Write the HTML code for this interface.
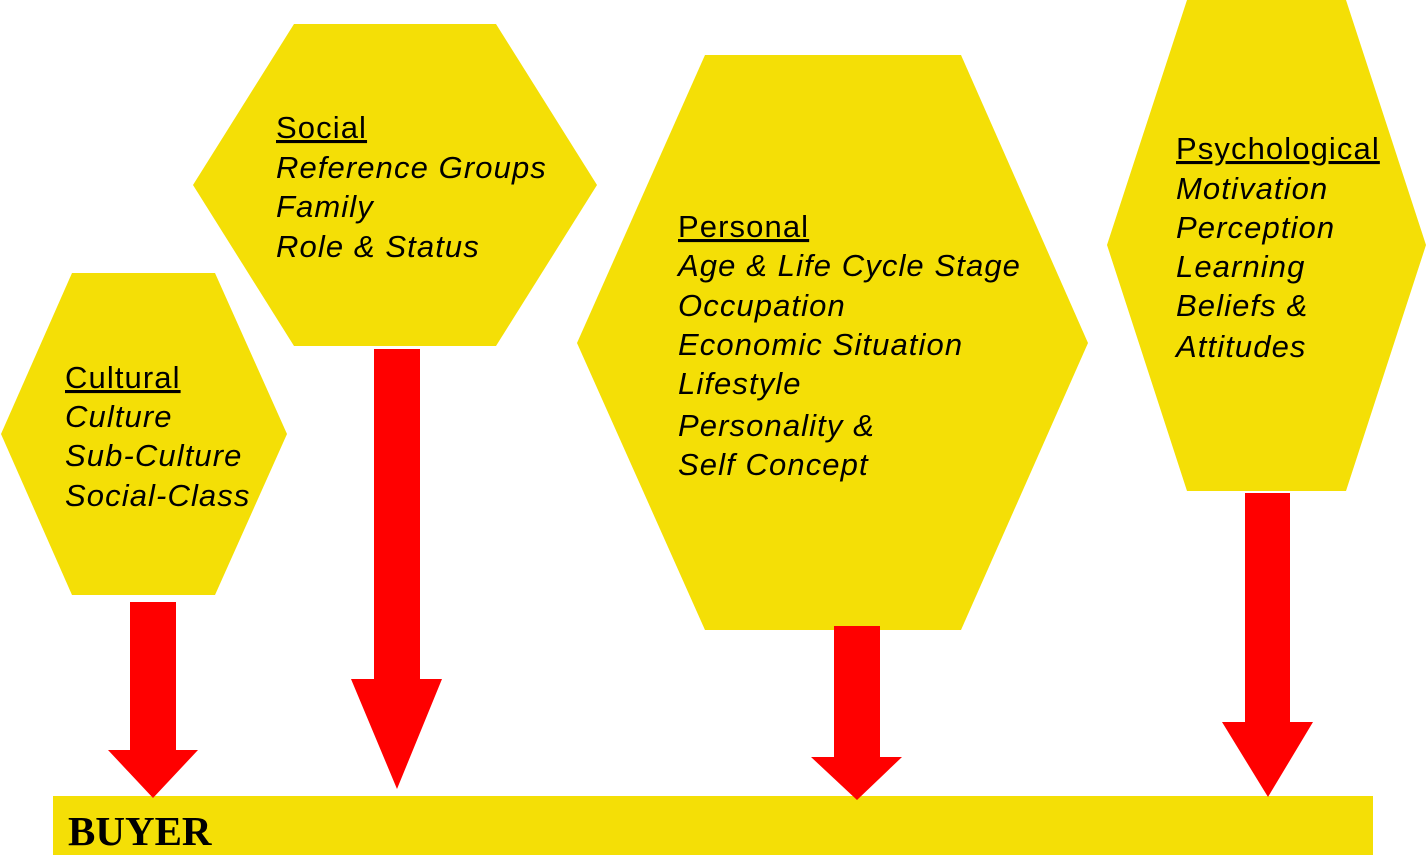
<!DOCTYPE html>
<html>
<head>
<meta charset="utf-8">
<style>
  html,body{margin:0;padding:0;background:#fff;}
  body{width:1427px;height:860px;overflow:hidden;}
  svg{display:block;}
  .t{font-family:"Liberation Sans",Arial,sans-serif;font-size:31px;letter-spacing:1.1px;fill:#000;}
  .i{font-style:italic;}
  .h{text-decoration:underline;}
  .b{font-family:"Liberation Serif","Times New Roman",serif;font-size:41px;font-weight:bold;fill:#000;}
</style>
</head>
<body>
<svg width="1427" height="860" viewBox="0 0 1427 860" xmlns="http://www.w3.org/2000/svg">
  <!-- Hexagons -->
  <polygon points="72,273 215,273 287,434 215,595 72,595 1,434" fill="#F4DF06"/>
  <polygon points="294,24 496,24 597,185 496,346 294,346 193,185" fill="#F4DF06"/>
  <polygon points="705,55 961,55 1088,343 961,630 705,630 577,343" fill="#F4DF06"/>
  <polygon points="1187,0 1346,0 1426,245 1346,491 1187,491 1107,245" fill="#F4DF06"/>

  <!-- Buyer bar -->
  <rect x="53" y="796" width="1320" height="59" fill="#F4DF06"/>

  <!-- Arrows -->
  <polygon points="130,602 176,602 176,750 198,750 153,798 108,750 130,750" fill="#FF0000"/>
  <polygon points="374,349 420,349 420,679 442,679 397,789 351,679 374,679" fill="#FF0000"/>
  <polygon points="834,626 880,626 880,757 902,757 857,800 811,757 834,757" fill="#FF0000"/>
  <polygon points="1245,493 1290,493 1290,722 1313,722 1268,797 1222,722 1245,722" fill="#FF0000"/>

  <!-- Cultural -->
  <text class="t h" x="65" y="388">Cultural</text>
  <text class="t i" x="65" y="427">Culture</text>
  <text class="t i" x="65" y="466">Sub-Culture</text>
  <text class="t i" x="65" y="506">Social-Class</text>

  <!-- Social -->
  <text class="t h" x="276" y="138">Social</text>
  <text class="t i" x="276" y="178">Reference Groups</text>
  <text class="t i" x="276" y="217">Family</text>
  <text class="t i" x="276" y="257">Role &amp; Status</text>

  <!-- Personal -->
  <text class="t h" x="678" y="237">Personal</text>
  <text class="t i" x="678" y="276">Age &amp; Life Cycle Stage</text>
  <text class="t i" x="678" y="316">Occupation</text>
  <text class="t i" x="678" y="355">Economic Situation</text>
  <text class="t i" x="678" y="394">Lifestyle</text>
  <text class="t i" x="678" y="436">Personality &amp;</text>
  <text class="t i" x="678" y="475">Self Concept</text>

  <!-- Psychological -->
  <text class="t h" x="1176" y="159">Psychological</text>
  <text class="t i" x="1176" y="199">Motivation</text>
  <text class="t i" x="1176" y="238">Perception</text>
  <text class="t i" x="1176" y="277">Learning</text>
  <text class="t i" x="1176" y="316">Beliefs &amp;</text>
  <text class="t i" x="1176" y="357">Attitudes</text>

  <!-- BUYER -->
  <text class="b" x="68" y="845">BUYER</text>
</svg>
</body>
</html>
